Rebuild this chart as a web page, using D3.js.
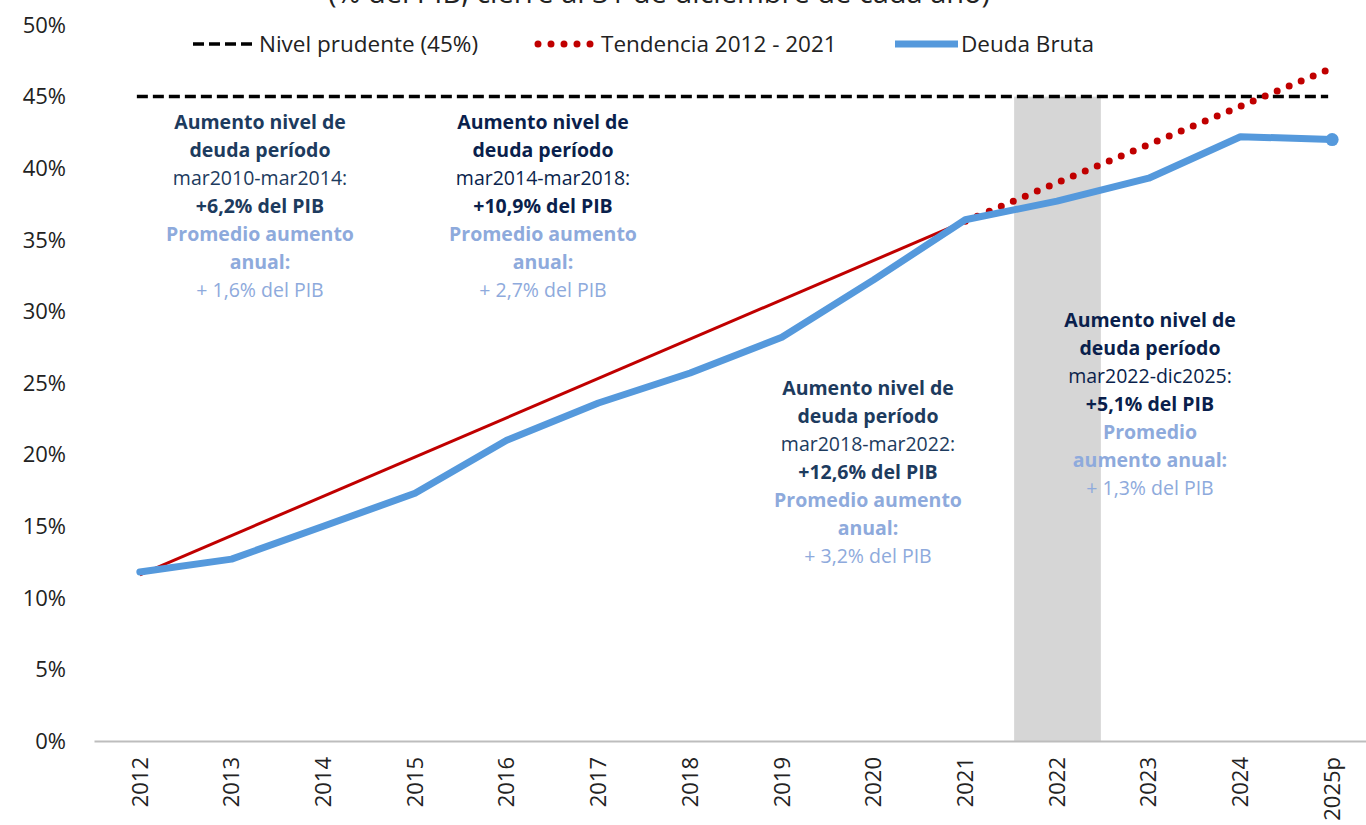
<!DOCTYPE html>
<html>
<head>
<meta charset="utf-8">
<script src="https://cdn.jsdelivr.net/npm/d3@7"></script>
<style>
  body { margin: 0; background: #fff; }
  svg { display: block; font-family: "Open Sans", Lato, sans-serif; }
</style>
</head>
<body>
<div id="chart"></div>
<script>
// data
const years = ['2012', '2013', '2014', '2015', '2016', '2017', '2018', '2019', '2020', '2021', '2022', '2023', '2024', '2025p']
const deudaBruta = [11.8, 12.7, 15.0, 17.3, 21.0, 23.6, 25.7, 28.2, 32.2, 36.4, 37.7, 39.3, 42.2, 42.0]
const trendSolid = [{ year: '2012', v: 11.6 }, { year: '2021', v: 36.3 }]
const trendDotted = [{ year: '2021', v: 36.3 }, { year: '2025p', v: 47.0 }]
const prudentLevel = 45
const shadedYear = '2022'
const yTicks = [0, 5, 10, 15, 20, 25, 30, 35, 40, 45, 50]
const subtitle = '(% del PIB, cierre al 31 de diciembre de cada año)'
const legendItems = ['Nivel prudente (45%)', 'Tendencia 2012 - 2021', 'Deuda Bruta']
const notes = [
	['Aumento nivel de', 'deuda período', 'mar2010-mar2014:', '+6,2% del PIB', 'Promedio aumento', 'anual:', '+ 1,6% del PIB'],
	['Aumento nivel de', 'deuda período', 'mar2014-mar2018:', '+10,9% del PIB', 'Promedio aumento', 'anual:', '+ 2,7% del PIB'],
	['Aumento nivel de', 'deuda período', 'mar2018-mar2022:', '+12,6% del PIB', 'Promedio aumento', 'anual:', '+ 3,2% del PIB'],
	['Aumento nivel de', 'deuda período', 'mar2022-dic2025:', '+5,1% del PIB', 'Promedio', 'aumento anual:', '+ 1,3% del PIB']
]

const W = 1366, H = 825
const blue = '#5599dc', red = '#c00000'

const svg = d3.select('#chart').append('svg')
	.attr('width', W)
	.attr('height', H)

const x = d3.scaleBand().domain(years).range([94, 1378]).paddingInner(0).paddingOuter(0)
const y = d3.scaleLinear().domain([0, 50]).range([741, 25])
const cx = d => x(d) + x.bandwidth() / 2

// subtitle, cut at the top edge like the original
svg.append('text')
	.attr('x', 659).attr('y', 3)
	.attr('text-anchor', 'middle')
	.attr('font-size', 29)
	.attr('fill', '#222')
	.text(subtitle)

// shaded year
svg.append('rect')
	.attr('x', x(shadedYear) + 3)
	.attr('width', x.bandwidth() - 5)
	.attr('y', y(prudentLevel))
	.attr('height', y(0) - y(prudentLevel))
	.attr('fill', '#d6d6d6')

// y labels
svg.append('g').selectAll('text')
	.data(yTicks)
	.enter().append('text')
	.attr('x', 66)
	.attr('y', d => y(d))
	.attr('dy', '0.35em')
	.attr('text-anchor', 'end')
	.attr('font-size', 22)
	.attr('fill', '#222')
	.text(d => d + '%')

// x axis
const xAxis = svg.append('g')
	.attr('transform', 'translate(0,' + y(0) + ')')
	.call(d3.axisBottom(x).tickSize(0).tickPadding(0))
xAxis.select('.domain').attr('stroke', '#bdbdbd').attr('stroke-width', 2)
xAxis.selectAll('text')
	.attr('font-size', 22)
	.attr('font-family', '"Open Sans", sans-serif')
	.attr('fill', '#222')
	.attr('text-anchor', 'end')
	.attr('transform', 'rotate(-90)')
	.attr('x', -16)
	.attr('y', 0)
	.attr('dy', '0.35em')

// prudent level
svg.append('line')
	.attr('x1', cx(years[0]) - 3).attr('x2', cx(years[years.length - 1]) - 4)
	.attr('y1', y(prudentLevel)).attr('y2', y(prudentLevel))
	.attr('stroke', '#000').attr('stroke-width', 3.5)
	.attr('stroke-dasharray', '11,5')

const line = d3.line().x(d => cx(d.year)).y(d => y(d.v))

// trend
svg.append('path')
	.datum(trendSolid)
	.attr('d', line)
	.attr('fill', 'none').attr('stroke', red).attr('stroke-width', 3)
svg.append('path')
	.datum(trendDotted)
	.attr('d', line)
	.attr('fill', 'none').attr('stroke', red).attr('stroke-width', 7)
	.attr('stroke-linecap', 'round')
	.attr('stroke-dasharray', '0,13')

// deuda bruta
const debt = years.map((yr, i) => ({ year: yr, v: deudaBruta[i] }))
svg.append('path')
	.datum(debt)
	.attr('d', line)
	.attr('fill', 'none').attr('stroke', blue).attr('stroke-width', 7)
	.attr('stroke-linejoin', 'round').attr('stroke-linecap', 'round')
svg.append('circle')
	.attr('cx', cx(years[years.length - 1]))
	.attr('cy', y(deudaBruta[deudaBruta.length - 1]))
	.attr('r', 6.5)
	.attr('fill', blue)

// legend
const legendX = [193, 535, 895]
const leg = svg.append('g').attr('transform', 'translate(0,44)')
leg.append('line').attr('x1', legendX[0]).attr('x2', legendX[0] + 62)
	.attr('stroke', '#000').attr('stroke-width', 3.5).attr('stroke-dasharray', '11,5')
leg.append('line').attr('x1', legendX[1] + 3).attr('x2', legendX[1] + 62)
	.attr('stroke', red).attr('stroke-width', 7).attr('stroke-linecap', 'round').attr('stroke-dasharray', '0,13')
leg.append('line').attr('x1', legendX[2]).attr('x2', legendX[2] + 63)
	.attr('stroke', blue).attr('stroke-width', 7)
leg.selectAll('text')
	.data(legendItems)
	.enter().append('text')
	.attr('x', (d, i) => legendX[i] + 66)
	.attr('dy', '0.35em')
	.attr('font-size', 22.5)
	.attr('fill', '#222')
	.text(d => d)

// annotations
const noteX = [260, 543, 868, 1150]
const noteY = [122, 122, 388, 320]
const darkCol = ['#1d3b5e', '#0a1f4c', '#1d3b5e', '#0a1f4c']
const lineStyle = [
	{ w: 'bold', c: 'dark' }, { w: 'bold', c: 'dark' }, { w: 'normal', c: 'dark' }, { w: 'bold', c: 'dark' },
	{ w: 'bold', c: 'light' }, { w: 'bold', c: 'light' }, { w: 'normal', c: 'light' }
]
notes.forEach((lines, n) => {
	const g = svg.append('g')
	g.selectAll('text')
		.data(lines)
		.enter().append('text')
		.attr('x', noteX[n])
		.attr('y', (d, i) => noteY[n] + i * 28)
		.attr('dy', '0.35em')
		.attr('text-anchor', 'middle')
		.attr('font-size', 19.5)
		.attr('font-weight', (d, i) => lineStyle[i].w)
		.attr('fill', (d, i) => lineStyle[i].c === 'dark' ? darkCol[n] : '#8eaadc')
		.text(d => d)
})
</script>
</body>
</html>
